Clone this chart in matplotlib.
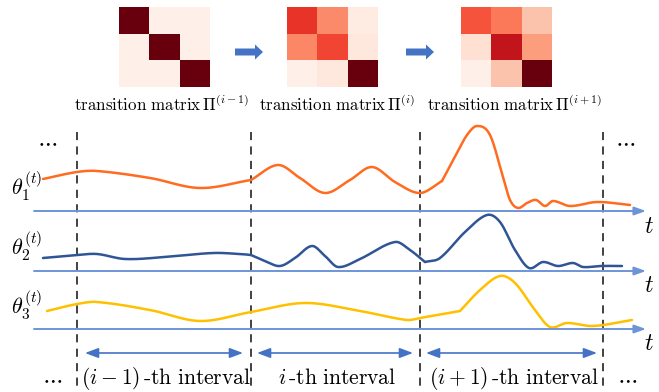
import numpy as np
import matplotlib
matplotlib.use("Agg")
import matplotlib.pyplot as plt
from matplotlib.patches import FancyArrow

plt.rcParams["mathtext.fontset"] = "cm"
plt.rcParams["font.family"] = ["DejaVu Serif"]

# ---- data -------------------------------------------------------------
# transition matrices for the three consecutive intervals
trans_prev = np.array([[1.00, 0.03, 0.03],
                       [0.03, 1.00, 0.03],
                       [0.03, 0.03, 1.00]])
trans_cur = np.array([[0.65, 0.40, 0.06],
                      [0.41, 0.60, 0.08],
                      [0.03, 0.08, 1.00]])
trans_next = np.array([[0.56, 0.45, 0.22],
                       [0.12, 0.78, 0.34],
                       [0.03, 0.22, 1.00]])
matrix_labels = [r"$\mathrm{transition\ matrix}\,\Pi^{(i-1)}$",
                 r"$\mathrm{transition\ matrix}\,\Pi^{(i)}$",
                 r"$\mathrm{transition\ matrix}\,\Pi^{(i+1)}$"]

# time stamps of the interval boundaries
boundaries = [77, 251, 420, 603]
interval_labels = [r"$(i-1)\,\mathrm{\text{-}th\ interval}$",
                   r"$i\,\mathrm{\text{-}th\ interval}$",
                   r"$(i+1)\,\mathrm{\text{-}th\ interval}$"]

# parameter trajectories theta_k(t): knots (t, height above the time axis);
# each trajectory is split into smooth pieces
theta1_t = [[43, 77, 97, 150, 200, 251],
            [251, 278, 300, 325, 350, 372, 395, 420, 442],
            [442, 457, 467, 477, 490, 503, 510, 518, 527, 536, 545, 553, 570, 597, 630]]
theta1_v = [[32, 39, 40, 33, 23, 31],
            [31, 46, 33, 18, 31, 44, 29, 18, 30],
            [30, 58, 76, 85, 76, 34, 11, 3, 8, 11, 5, 10, 5, 9, 6]]

theta2_t = [[43, 77, 97, 125, 165, 213, 240, 251],
            [251, 265, 280, 295, 312, 325, 338, 360, 395, 410, 425],
            [425, 440, 465, 487, 500, 515, 529, 543, 558, 573, 583, 600, 622]]
theta2_v = [[13, 16, 17, 12, 14, 18, 17, 16],
            [16, 10, 5, 13, 25, 15, 4, 12, 29, 21, 9],
            [9, 13, 39, 56, 49, 21, 3, 9, 5, 8, 4, 5, 5]]

theta3_t = [[47, 77, 97, 150, 200, 251, 305, 360, 407, 420, 460],
            [460, 480, 500, 515, 535, 550, 567, 593, 632]]
theta3_v = [[18, 25, 27, 19, 8, 17, 26, 18, 9, 11, 18],
            [18, 39, 53, 46, 19, 2, 6, 3, 9]]

series = [(theta1_t, theta1_v, "#FF6B1F", r"$\theta_1^{(t)}$"),
          (theta2_t, theta2_v, "#2F5597", r"$\theta_2^{(t)}$"),
          (theta3_t, theta3_v, "#FFC000", r"$\theta_3^{(t)}$")]


def smooth_curve(x, y, n=25):
    """Cubic Hermite curve through the knots, slopes from neighbouring knots."""
    x = np.asarray(x, float)
    y = np.asarray(y, float)
    m = np.empty_like(y)
    m[1:-1] = (y[2:] - y[:-2]) / (x[2:] - x[:-2])
    m[0] = (y[1] - y[0]) / (x[1] - x[0])
    m[-1] = (y[-1] - y[-2]) / (x[-1] - x[-2])
    xs, ys = [], []
    for i in range(len(x) - 1):
        h = x[i + 1] - x[i]
        s = np.linspace(0, 1, n, endpoint=False)
        h00 = 2 * s ** 3 - 3 * s ** 2 + 1
        h10 = s ** 3 - 2 * s ** 2 + s
        h01 = -2 * s ** 3 + 3 * s ** 2
        h11 = s ** 3 - s ** 2
        xs.append(x[i] + s * h)
        ys.append(h00 * y[i] + h10 * h * m[i] + h01 * y[i + 1] + h11 * h * m[i + 1])
    xs.append([x[-1]])
    ys.append([y[-1]])
    return np.concatenate(xs), np.concatenate(ys)


# ---- figure -----------------------------------------------------------
W, H = 659, 392
fig = plt.figure(figsize=(W / 100, H / 100), dpi=100)
ax = fig.add_axes([0, 0, 1, 1])
ax.set_xlim(0, W)
ax.set_ylim(H, 0)
ax.axis("off")

# transition matrices
mat_boxes = [(119, 210), (287, 378), (461, 552)]
label_x = [162, 337, 515]
for (x0, x1), m, lab, lx in zip(mat_boxes, [trans_prev, trans_cur, trans_next],
                                matrix_labels, label_x):
    ax.imshow(m, cmap="Reds", vmin=0, vmax=1, extent=(x0, x1, 87, 7),
              interpolation="nearest", aspect="auto")
    ax.text(lx, 105, lab, ha="center", va="center", fontsize=12.2)

for xa in (235, 406):
    ax.add_patch(FancyArrow(xa, 52, 20, 0, width=7, head_width=15, head_length=8,
                            length_includes_head=False, color="#4472C4", lw=0))

# interval boundaries
for b in boundaries:
    ax.plot([b, b], [132, H], color="#333333", lw=1.3, ls=(0, (4.5, 3.5)))

# time axes and trajectories
baselines = [211, 271, 329]
axis_color = "#6E94D8"
label_y = [186, 246, 305]
for (ts, vs, col, lab), base, ly in zip(series, baselines, label_y):
    ax.annotate("", xy=(646, base), xytext=(34, base),
                arrowprops=dict(arrowstyle="-|>,head_length=0.7,head_width=0.25",
                                color=axis_color, lw=1.4, shrinkA=0, shrinkB=0))
    ax.text(649, base + 15, r"$t$", ha="center", va="center", fontsize=17)
    ax.text(27, ly, lab, ha="center", va="center", fontsize=16)
    for tp, vp in zip(ts, vs):
        cx, cy = smooth_curve(tp, vp)
        ax.plot(cx, base - cy, color=col, lw=1.8, solid_capstyle="round")

# interval spans
spans = [(85, 243), (257, 413), (426, 597)]
for (a, b), lab in zip(spans, interval_labels):
    ax.annotate("", xy=(b, 353), xytext=(a, 353),
                arrowprops=dict(arrowstyle="<|-|>,head_length=0.8,head_width=0.3",
                                color="#4472C4", lw=1.2, shrinkA=0, shrinkB=0))
    ax.text((a + b) / 2 + 2, 378, lab, ha="center", va="center", fontsize=15.5)

# ellipses marking continuation
for x, y in [(47, 142), (625, 142), (52, 379), (627, 379)]:
    ax.text(x, y, r"$\cdots$", ha="center", va="center", fontsize=16)

fig.savefig("out.png", dpi=100)
